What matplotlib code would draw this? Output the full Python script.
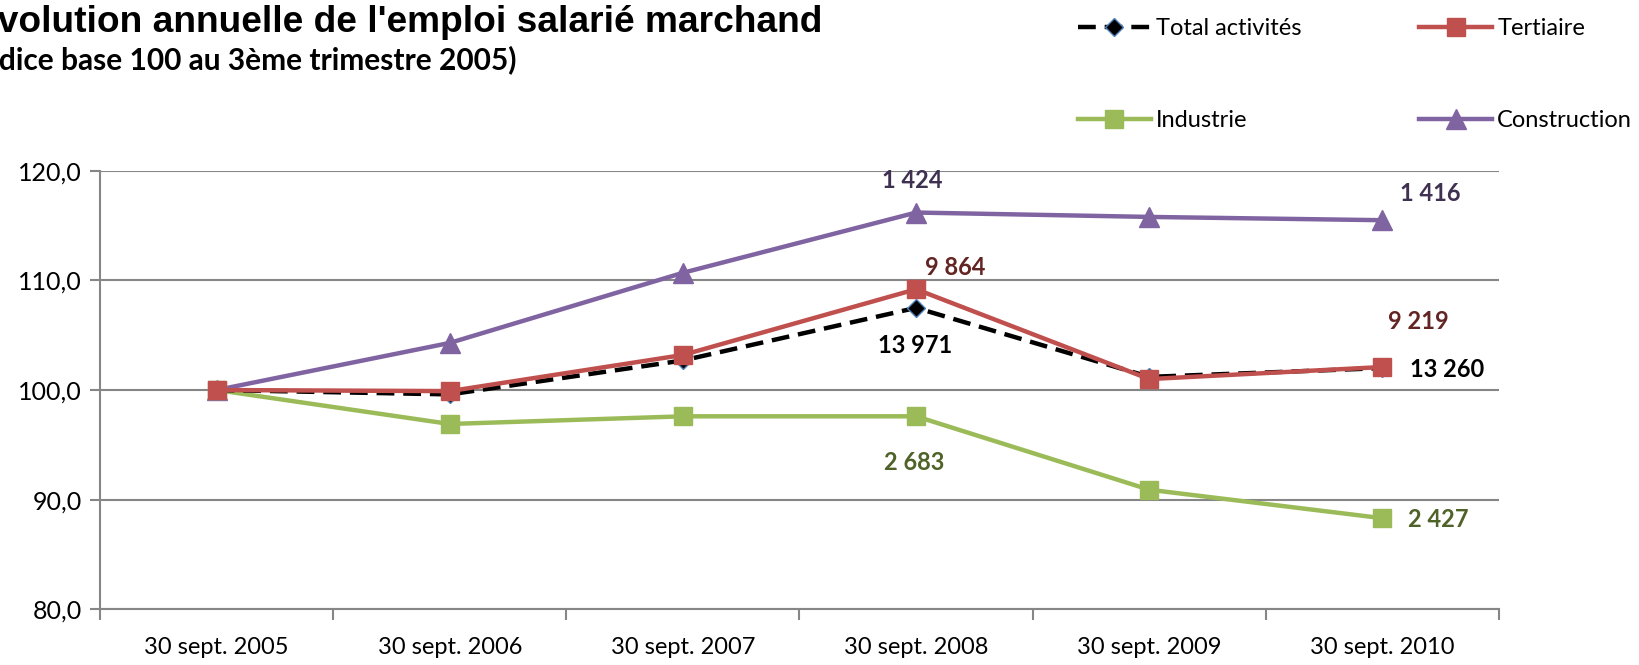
import matplotlib.pyplot as plt
from matplotlib.ticker import FixedLocator

COLOR_TOTAL = "black"
COLOR_TERT = "#c0504d"
COLOR_INDU = "#9bbb59"
COLOR_CONS = "#8064a2"
COLOR_GRID = "#868686"

dates = ["30 sept. 2005", "30 sept. 2006", "30 sept. 2007",
         "30 sept. 2008", "30 sept. 2009", "30 sept. 2010"]
total = [100.0, 99.6, 102.7, 107.5, 101.2, 102.0]
tertiaire = [100.0, 99.9, 103.2, 109.2, 101.0, 102.1]
industrie = [100.0, 96.9, 97.6, 97.6, 90.9, 88.3]
construction = [100.0, 104.3, 110.7, 116.2, 115.8, 115.5]

# effectifs affichés (index du point, texte)
labels_total = [(3, "13 971"), (5, "13 260")]
labels_tert = [(3, "9 864"), (5, "9 219")]
labels_indu = [(3, "2 683"), (5, "2 427")]
labels_cons = [(3, "1 424"), (5, "1 416")]

plt.rcParams["font.family"] = ["Lato", "DejaVu Sans"]

fig = plt.figure(figsize=(16.4, 6.65), dpi=100)
ax = fig.add_axes([0.061, 0.084, 0.853, 0.659])
x = list(range(len(dates)))

ax.plot(x, construction, color=COLOR_CONS, lw=3.2, marker="^", ms=14,
        label="Construction", zorder=3)
ax.plot(x, industrie, color=COLOR_INDU, lw=3.2, marker="s", ms=13,
        label="Industrie", zorder=3)
ax.plot(x, total, color=COLOR_TOTAL, lw=3.2, ls=(0, (4, 2)), marker="D", ms=9,
        mfc="black", mec="#4f81bd", mew=1, label="Total activités", zorder=4)
ax.plot(x, tertiaire, color=COLOR_TERT, lw=3.2, marker="s", ms=13,
        label="Tertiaire", zorder=5)

def put(labels, values, color, dx, dy):
    for (i, txt), (ox, oy) in zip(labels, zip(dx, dy)):
        ax.annotate(txt, (x[i], values[i]), xytext=(ox, oy), textcoords="offset pixels",
                    ha="center", va="center", fontsize=17, fontweight="bold", color=color)

put(labels_cons, construction, "#3f3151", [-4, 48], [32, 27])
put(labels_tert, tertiaire, "#632523", [39, 36], [22, 46])
put(labels_total, total, "black", [-1, 65], [-38, -1])
put(labels_indu, industrie, "#4f6228", [-2, 56], [-46, -1])

ax.set_xlim(-0.5, 5.5)
ax.set_ylim(80, 120)
ax.set_yticks([80, 90, 100, 110, 120])
ax.set_yticklabels(["80,0", "90,0", "100,0", "110,0", "120,0"])
ax.set_xticks(x)
ax.set_xticklabels(dates)
ax.xaxis.set_minor_locator(FixedLocator([i - 0.5 for i in range(7)]))
ax.tick_params(axis="x", which="major", length=0, pad=20, labelsize=17)
ax.tick_params(axis="x", which="minor", length=8, width=1.5, color=COLOR_GRID)
ax.tick_params(axis="y", length=7, width=1.5, color=COLOR_GRID, labelsize=18, pad=6)
ax.grid(axis="y", color=COLOR_GRID, lw=1.5)
ax.set_axisbelow(True)
for s in ["top", "right"]:
    ax.spines[s].set_visible(False)
for s in ["left", "bottom"]:
    ax.spines[s].set_color(COLOR_GRID)
    ax.spines[s].set_linewidth(1.5)

h, l = ax.get_legend_handles_labels()
order = [2, 1, 3, 0]
fig.legend([h[i] for i in order], [l[i] for i in order], ncol=2, loc="upper left",
           bbox_to_anchor=(0.650, 0.99), frameon=False, fontsize=17, borderpad=0,
           handlelength=3.1, labelspacing=3.0, columnspacing=5.0, handletextpad=0.2)

fig.text(-0.0162, 0.971, "Évolution annuelle de l'emploi salarié marchand", fontsize=26.7,
         fontweight="bold", family="Liberation Sans", va="center", ha="left")
fig.text(-0.0215, 0.91, "(Indice base 100 au 3ème trimestre 2005)", fontsize=21.5,
         fontweight="bold", va="center", ha="left")

fig.savefig("out.png", dpi=100)
